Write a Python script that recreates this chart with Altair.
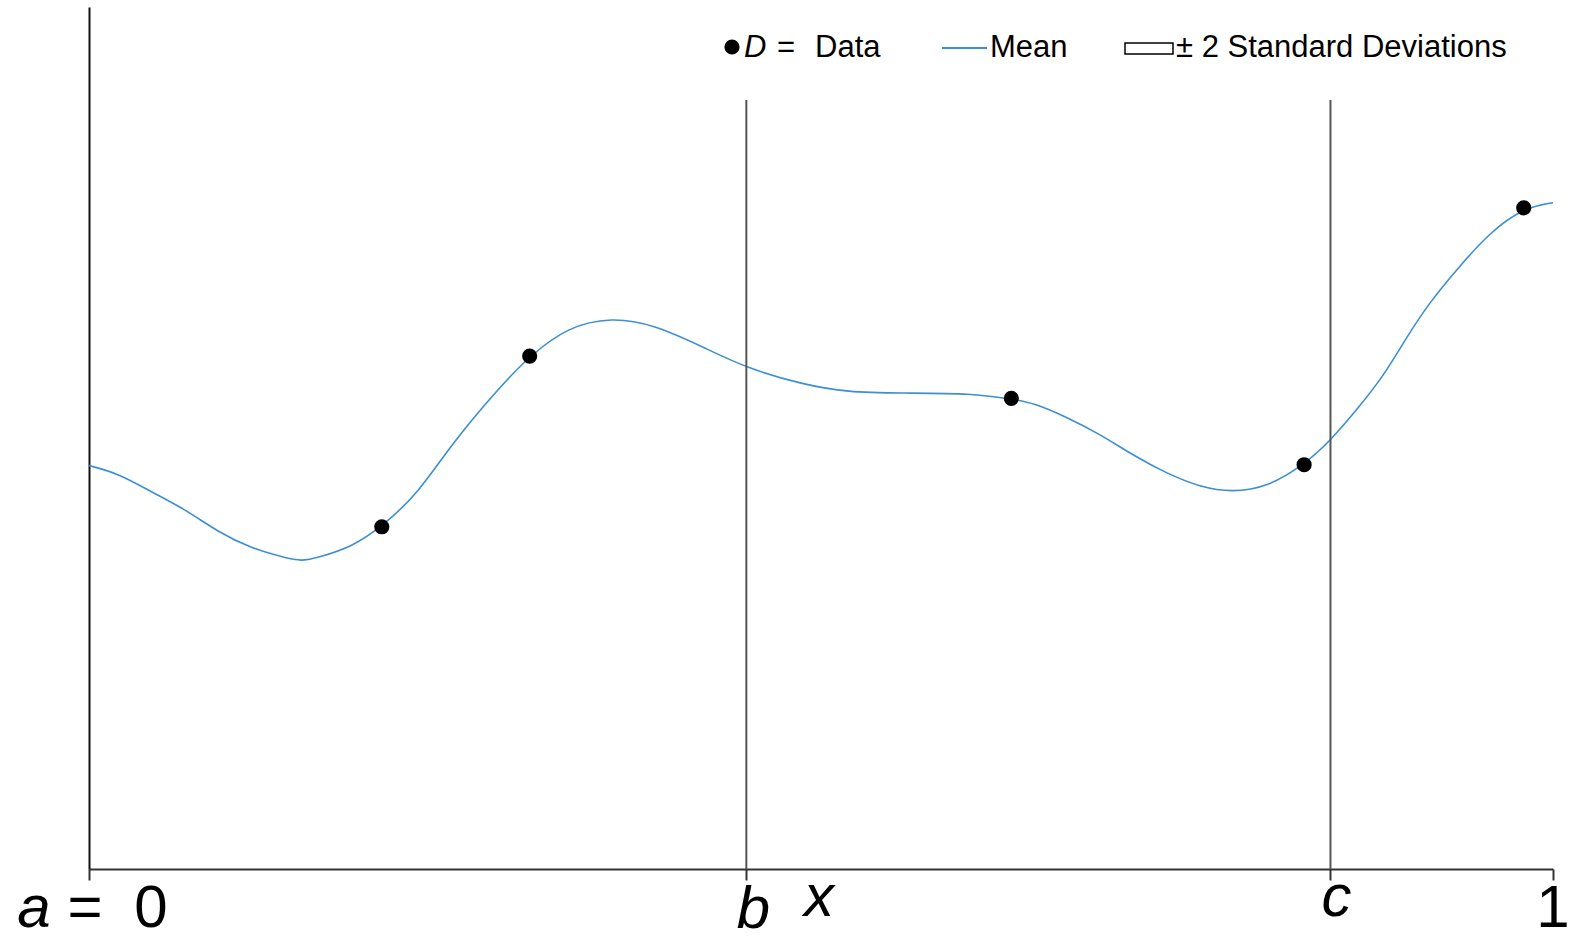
import altair as alt
import pandas as pd

# ---- data ----
mean_x = [0.000, 0.020, 0.043, 0.066, 0.088, 0.111, 0.134, 0.145, 0.156, 0.180,
          0.200, 0.225, 0.248, 0.281, 0.301, 0.327, 0.357, 0.385, 0.419, 0.449,
          0.488, 0.518, 0.554, 0.604, 0.630, 0.645, 0.668, 0.691, 0.713, 0.736,
          0.759, 0.781, 0.805, 0.830, 0.848, 0.866, 0.884, 0.900, 0.916, 0.934,
          0.957, 0.980, 1.000]
mean_y = [4.68, 4.59, 4.37, 4.17, 3.91, 3.72, 3.61, 3.57, 3.61, 3.74,
          3.97, 4.36, 4.94, 5.60, 5.95, 6.29, 6.40, 6.32, 6.06, 5.81,
          5.62, 5.53, 5.52, 5.52, 5.45, 5.41, 5.24, 5.04, 4.80, 4.59,
          4.43, 4.37, 4.43, 4.69, 4.97, 5.33, 5.71, 6.17, 6.58, 6.95,
          7.39, 7.67, 7.73]
data_x = [0.200, 0.301, 0.630, 0.830, 0.980]
data_y = [3.97, 5.95, 5.46, 4.69, 7.67]
tick_values = [0.0, 0.449, 0.848, 1.0]
tick_labels = ["a = 0", "b", "c", "1"]
vline_x = [0.449, 0.848]
legend_labels = ["D", "=", "Data", "Mean", "\u00b1 2 Standard Deviations"]

FONT = "Liberation Sans"
BLUE = "#3b8fd2"
W, H = 1464, 862

mean_df = pd.DataFrame({"x": mean_x, "y": mean_y})
pts_df = pd.DataFrame({"x": data_x, "y": data_y})
vl_df = pd.DataFrame({"x": vline_x})
one = alt.Data(values=[{}])

xs = alt.Scale(domain=[0, 1], nice=False)
ys = alt.Scale(domain=[0, 10], nice=False)
x_axis = alt.Axis(values=tick_values, labels=False, title=None, grid=False,
                  domainColor="#333333", domainWidth=2, tickColor="#333333",
                  tickWidth=2, tickSize=11)
y_axis = alt.Axis(labels=False, ticks=False, title=None, grid=False,
                  domainColor="#111111", domainWidth=2)

base_line = alt.Chart(mean_df).mark_line(color=BLUE, strokeWidth=1.6, interpolate="basis").encode(
    x=alt.X("x:Q", scale=xs, axis=x_axis),
    y=alt.Y("y:Q", scale=ys, axis=y_axis),
)

vlines = alt.Chart(vl_df).mark_rule(color="#555555", strokeWidth=2).encode(
    x=alt.X("x:Q", scale=xs),
    y=alt.value(93),
    y2=alt.value(H),
)

points = alt.Chart(pts_df).mark_circle(color="black", opacity=1, size=230).encode(
    x=alt.X("x:Q", scale=xs),
    y=alt.Y("y:Q", scale=ys),
)

LBL = 60


def tick_piece(idx, text, italic, dx, y):
    d = pd.DataFrame({"x": [tick_values[idx]], "t": [text]})
    return alt.Chart(d).mark_text(font=FONT, fontSize=LBL, fontStyle="italic" if italic else "normal",
                                  align="center", baseline="alphabetic", dx=dx, color="black").encode(
        x=alt.X("x:Q", scale=xs), y=alt.value(y), text="t:N")


a_parts = tick_labels[0].split(" ")
labels = [
    tick_piece(0, a_parts[0], True, -55, 920),
    tick_piece(0, a_parts[1], False, -4, 920),
    tick_piece(0, a_parts[2], False, 62, 920),
    tick_piece(1, tick_labels[1], True, 7, 921),
    tick_piece(2, tick_labels[2], True, 6, 909),
    tick_piece(3, tick_labels[3], False, 0, 920),
]

x_title = alt.Chart(one).mark_text(font=FONT, fontSize=LBL, fontStyle="italic", align="center",
                                   baseline="alphabetic", color="black").encode(
    x=alt.value(730), y=alt.value(909), text=alt.value("x"))

# legend
LF = 31
leg = [
    alt.Chart(one).mark_circle(color="black", opacity=1, size=230).encode(x=alt.value(643), y=alt.value(40)),
    alt.Chart(one).mark_text(font=FONT, fontSize=LF, fontStyle="italic", align="left", baseline="alphabetic").encode(
        x=alt.value(655), y=alt.value(50), text=alt.value(legend_labels[0])),
    alt.Chart(one).mark_text(font=FONT, fontSize=LF, align="left", baseline="alphabetic").encode(
        x=alt.value(688), y=alt.value(50), text=alt.value(legend_labels[1])),
    alt.Chart(one).mark_text(font=FONT, fontSize=LF, align="left", baseline="alphabetic").encode(
        x=alt.value(726), y=alt.value(50), text=alt.value(legend_labels[2])),
    alt.Chart(one).mark_rule(color=BLUE, strokeWidth=2).encode(
        x=alt.value(853), x2=alt.value(898), y=alt.value(41)),
    alt.Chart(one).mark_text(font=FONT, fontSize=LF, align="left", baseline="alphabetic").encode(
        x=alt.value(901), y=alt.value(50), text=alt.value(legend_labels[3])),
    alt.Chart(one).mark_rect(fill="white", stroke="black", strokeWidth=1.5).encode(
        x=alt.value(1036), x2=alt.value(1084), y=alt.value(36), y2=alt.value(47)),
    alt.Chart(one).mark_text(font=FONT, fontSize=LF, align="left", baseline="alphabetic").encode(
        x=alt.value(1087), y=alt.value(50), text=alt.value(legend_labels[4])),
]

chart = alt.layer(base_line, vlines, points, *labels, x_title, *leg).properties(
    width=W, height=H,
    padding={"left": 89, "top": 7, "right": 1576 - 89 - W, "bottom": 940 - 7 - H},
    autosize=alt.AutoSizeParams(type="none"),
    background="white",
).configure_view(stroke=None)

chart.save("out.html", embed_options={"renderer": "svg", "actions": False})
